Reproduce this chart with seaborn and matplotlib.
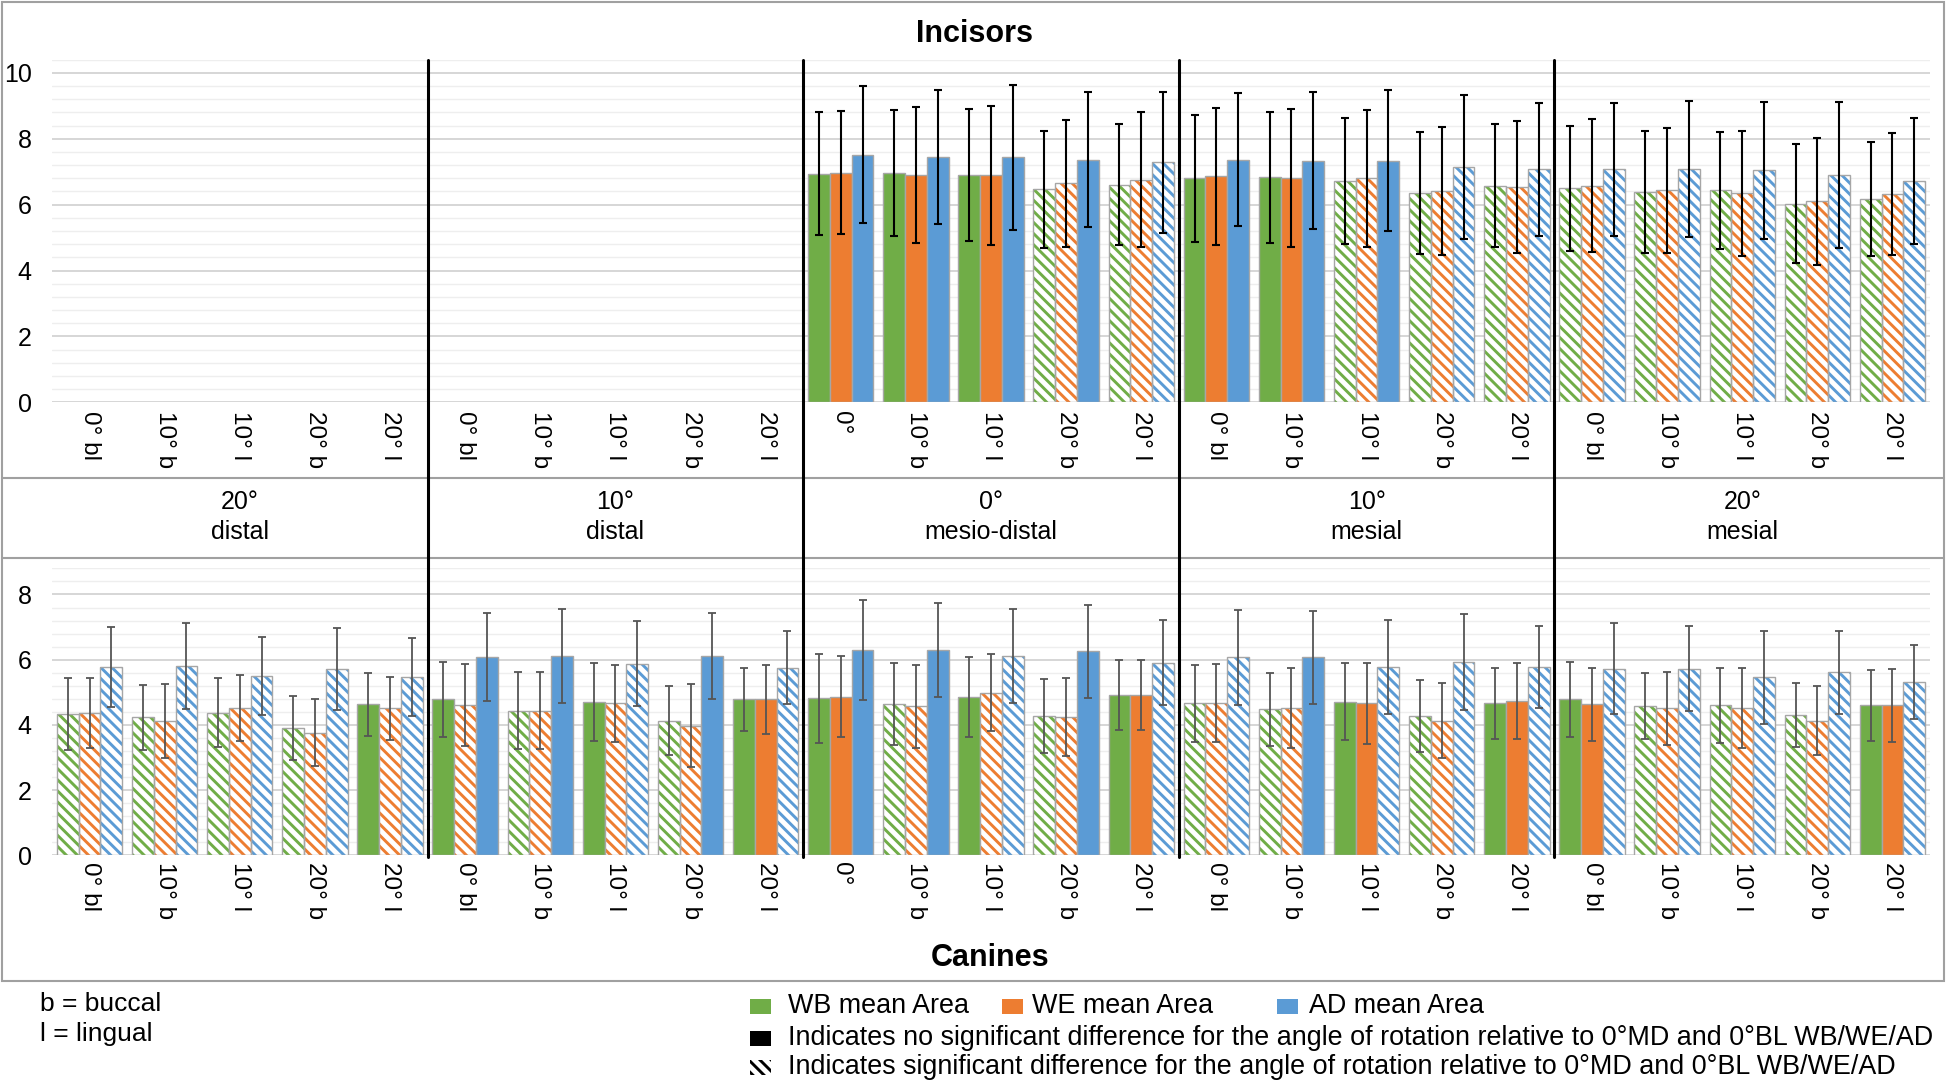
import numpy as np
import pandas as pd
import matplotlib
matplotlib.use("Agg")
import matplotlib.pyplot as plt
import seaborn as sns
from matplotlib.patches import Rectangle
from matplotlib.lines import Line2D
from matplotlib.ticker import MultipleLocator

sns.set_theme(style="white")
plt.rcParams['font.family'] = ['Liberation Sans', 'DejaVu Sans']
plt.rcParams['hatch.linewidth'] = 2.1
plt.rcParams['text.color'] = 'black'
plt.rcParams['xtick.color'] = 'black'
plt.rcParams['ytick.color'] = 'black'

# ---------------- data ----------------
sections = ["20°\ndistal", "10°\ndistal", "0°\nmesio-distal", "10°\nmesial", "20°\nmesial"]
rotations = ["0° bl", "10° b", "10° l", "20° b", "20° l"]
rotations_md = ["0°", "10° b", "10° l", "20° b", "20° l"]
series = ["WB mean Area", "WE mean Area", "AD mean Area"]
colors = ["#70AD47", "#ED7D31", "#5B9BD5"]

# Incisors (no data for the two distal sections)
inc_wb = [None, None, None, None, None, None, None, None, None, None,
          6.94, 6.97, 6.89, 6.46, 6.61, 6.80, 6.83, 6.72, 6.35, 6.58, 6.50, 6.39, 6.43, 6.03, 6.17]
inc_wb_sd = [None, None, None, None, None, None, None, None, None, None,
             1.86, 1.91, 2.00, 1.79, 1.84, 1.92, 1.98, 1.90, 1.86, 1.87, 1.90, 1.86, 1.79, 1.80, 1.72]
inc_we = [None, None, None, None, None, None, None, None, None, None,
          6.97, 6.89, 6.89, 6.65, 6.75, 6.86, 6.80, 6.80, 6.42, 6.53, 6.57, 6.43, 6.35, 6.10, 6.32]
inc_we_sd = [None, None, None, None, None, None, None, None, None, None,
             1.86, 2.06, 2.11, 1.93, 2.05, 2.07, 2.10, 2.08, 1.94, 2.00, 2.02, 1.90, 1.90, 1.93, 1.86]
inc_ad = [None, None, None, None, None, None, None, None, None, None,
          7.51, 7.44, 7.44, 7.37, 7.28, 7.37, 7.34, 7.34, 7.15, 7.08, 7.08, 7.08, 7.04, 6.90, 6.72]
inc_ad_sd = [None, None, None, None, None, None, None, None, None, None,
             2.08, 2.04, 2.20, 2.06, 2.14, 2.03, 2.09, 2.13, 2.18, 2.02, 2.02, 2.06, 2.09, 2.22, 1.90]
# 1 = significant difference (hatched), 0 = no significant difference (solid)
inc_wb_sig = [0, 0, 0, 0, 0, 0, 0, 0, 0, 0, 0, 0, 0, 1, 1, 0, 0, 1, 1, 1, 1, 1, 1, 1, 1]
inc_we_sig = [0, 0, 0, 0, 0, 0, 0, 0, 0, 0, 0, 0, 0, 1, 1, 0, 0, 1, 1, 1, 1, 1, 1, 1, 1]
inc_ad_sig = [0, 0, 0, 0, 0, 0, 0, 0, 0, 0, 0, 0, 0, 0, 1, 0, 0, 0, 1, 1, 1, 1, 1, 1, 1]

# Canines
can_wb = [4.34, 4.23, 4.37, 3.91, 4.63, 4.78, 4.44, 4.71, 4.13, 4.78, 4.81, 4.63, 4.86, 4.27, 4.91,
          4.66, 4.48, 4.71, 4.28, 4.66, 4.78, 4.57, 4.60, 4.31, 4.60]
can_wb_sd = [1.10, 0.99, 1.06, 0.99, 0.97, 1.14, 1.19, 1.20, 1.05, 0.98, 1.36, 1.26, 1.22, 1.13, 1.07,
             1.19, 1.12, 1.18, 1.10, 1.10, 1.15, 1.01, 1.15, 0.98, 1.09]
can_we = [4.37, 4.12, 4.51, 3.76, 4.51, 4.61, 4.44, 4.66, 3.98, 4.78, 4.86, 4.57, 4.99, 4.24, 4.91,
          4.66, 4.52, 4.66, 4.13, 4.74, 4.63, 4.51, 4.51, 4.13, 4.60]
can_we_sd = [1.08, 1.14, 1.01, 1.03, 0.96, 1.26, 1.19, 1.19, 1.26, 1.07, 1.24, 1.28, 1.18, 1.19, 1.07,
             1.20, 1.24, 1.24, 1.14, 1.17, 1.12, 1.12, 1.22, 1.06, 1.12]
can_ad = [5.78, 5.81, 5.50, 5.71, 5.46, 6.08, 6.11, 5.88, 6.11, 5.75, 6.30, 6.30, 6.11, 6.26, 5.91,
          6.07, 6.07, 5.78, 5.92, 5.78, 5.72, 5.72, 5.46, 5.61, 5.32]
can_ad_sd = [1.23, 1.32, 1.20, 1.26, 1.20, 1.35, 1.45, 1.30, 1.33, 1.12, 1.53, 1.45, 1.43, 1.43, 1.30,
             1.45, 1.43, 1.44, 1.47, 1.26, 1.39, 1.30, 1.43, 1.28, 1.14]
can_wb_sig = [1, 1, 1, 1, 0, 0, 1, 0, 1, 0, 0, 1, 0, 1, 0, 1, 1, 0, 1, 0, 0, 1, 1, 1, 0]
can_we_sig = [1, 1, 1, 1, 1, 1, 1, 1, 1, 0, 0, 1, 1, 1, 0, 1, 1, 0, 1, 0, 0, 1, 1, 1, 0]
can_ad_sig = [1, 1, 1, 1, 1, 0, 0, 1, 0, 1, 0, 0, 1, 0, 1, 1, 0, 1, 1, 1, 1, 1, 1, 1, 1]

# ---------------- layout ----------------
W, H = 1946, 1085
fig = plt.figure(figsize=(W / 100, H / 100), dpi=100)
fig.patch.set_facecolor('white')


def fx(px):
    return px / W


def fy(py):
    return 1 - py / H


keys, tick_labels = [], []
for s, sec in enumerate(sections):
    labs = rotations_md if s == 2 else rotations
    for r in labs:
        keys.append(f"{s}|{r}")
        tick_labels.append(r)

L, R = 52, 1930
ax_top = fig.add_axes([fx(L), fy(402.3), (R - L) / W, (402.3 - 59.7) / H])
ax_bot = fig.add_axes([fx(L), fy(855.3), (R - L) / W, (855.3 - 568.4) / H])

EDGE = "#A6A6A6"
HATCH = '\\\\\\'


def draw_panel(ax, vals, sds, sigs, ymax, yticks, ecolor, elw, pad):
    rows = []
    for h, name in enumerate(series):
        for i, k in enumerate(keys):
            v = vals[h][i]
            rows.append({"key": k, "series": name, "value": np.nan if v is None else v})
    df = pd.DataFrame(rows).dropna()
    sns.barplot(data=df, x="key", y="value", hue="series", order=keys, hue_order=series,
                palette=colors, saturation=1, errorbar=None, width=0.87, ax=ax,
                legend=False, edgecolor=EDGE, linewidth=1.0, zorder=2)
    conts = list(ax.containers)[:3]
    for h, cont in enumerate(conts):
        for p in cont.patches:
            xc = p.get_x() + p.get_width() / 2
            i = int(round(xc))
            if sigs[h][i]:
                p.set_facecolor('white')
                p.set_edgecolor(colors[h])
                p.set_hatch(HATCH)
                p.set_linewidth(0)
                ax.add_patch(Rectangle((p.get_x(), 0), p.get_width(), p.get_height(),
                                       fill=False, edgecolor=EDGE, lw=1.0, zorder=3))
            ax.errorbar(xc, vals[h][i], yerr=sds[h][i], fmt='none', ecolor=ecolor,
                        elinewidth=elw, capsize=3, capthick=elw, zorder=5)
    ax.set_xlim(-0.5, len(keys) - 0.5)
    ax.set_ylim(0, ymax)
    ax.set_yticks(yticks)
    ax.set_yticklabels([str(t) for t in yticks], fontsize=18)
    ax.yaxis.set_minor_locator(MultipleLocator(0.4))
    ax.set_axisbelow(True)
    ax.grid(which='minor', axis='y', color='#EEEEEE', lw=1.0, zorder=0)
    ax.grid(which='major', axis='y', color='#D6D6D6', lw=1.4, zorder=0)
    ax.grid(which='both', axis='x', visible=False)
    ax.set_xticks(range(len(keys)))
    ax.set_xticklabels(tick_labels, rotation=-90, fontsize=17.5, va='top', ha='center')
    ax.tick_params(axis='both', which='both', length=0)
    ax.tick_params(axis='x', pad=pad)
    ax.tick_params(axis='y', pad=14.5)
    for sp in ax.spines.values():
        sp.set_visible(False)
    ax.set_xlabel('')
    ax.set_ylabel('')
    ax.set_facecolor('none')


draw_panel(ax_top, [inc_wb, inc_we, inc_ad], [inc_wb_sd, inc_we_sd, inc_ad_sd],
           [inc_wb_sig, inc_we_sig, inc_ad_sig], 10.4, [0, 2, 4, 6, 8, 10], 'black', 1.5, 6)
draw_panel(ax_bot, [can_wb, can_we, can_ad], [can_wb_sd, can_we_sd, can_ad_sd],
           [can_wb_sig, can_we_sig, can_ad_sig], 8.8, [0, 2, 4, 6, 8], '#555555', 1.3, 5)

# ---------------- frame and separators ----------------
inv = fig.transFigure.inverted()
FRAME = '#A0A0A0'
fig.add_artist(Rectangle((fx(2), fy(981)), fx(1944) - fx(2), fy(2) - fy(981),
                         transform=fig.transFigure, fill=False, edgecolor=FRAME, lw=1.5))
for yy in (478, 558):
    fig.add_artist(Line2D([fx(2), fx(1944)], [fy(yy), fy(yy)], transform=fig.transFigure,
                          color=FRAME, lw=1.5))

for b in (4.5, 9.5, 14.5, 19.5):
    xfig = inv.transform(ax_top.transData.transform((b, 0)))[0]
    fig.add_artist(Line2D([xfig, xfig], [fy(59.7), fy(857)], transform=fig.transFigure,
                          color='black', lw=2.2, zorder=10))

for s, sec in enumerate(sections):
    xfig = inv.transform(ax_top.transData.transform((5 * s + 2, 0)))[0]
    fig.text(xfig, fy(517), sec, ha='center', va='center', fontsize=18, linespacing=1.3)

fig.text(fx(974), fy(34), "Incisors", ha='center', va='center', fontsize=22, fontweight='bold')
fig.text(fx(990), fy(958), "Canines", ha='center', va='center', fontsize=22, fontweight='bold')

# ---------------- legend ----------------
LFS = 19.4
fig.text(fx(40), fy(1004), "b = buccal", ha='left', va='center', fontsize=19)
fig.text(fx(40), fy(1034), "l = lingual", ha='left', va='center', fontsize=19)

pw, ph = 21, 15
row_y = [1006, 1038, 1067]
for (px, tx), name, c in zip([(750, 788), (1002, 1032), (1277, 1309)], series, colors):
    fig.add_artist(Rectangle((fx(px), fy(row_y[0] + ph / 2)), pw / W, ph / H,
                             transform=fig.transFigure, facecolor=c, edgecolor='none'))
    fig.text(fx(tx), fy(row_y[0]), name, ha='left', va='center', fontsize=LFS)

fig.add_artist(Rectangle((fx(750), fy(row_y[1] + ph / 2)), pw / W, ph / H,
                         transform=fig.transFigure, facecolor='black', edgecolor='none'))
fig.text(fx(788), fy(row_y[1]),
         "Indicates no significant difference for the angle of rotation relative to 0°MD and 0°BL WB/WE/AD",
         ha='left', va='center', fontsize=LFS)
fig.add_artist(Rectangle((fx(750), fy(row_y[2] + ph / 2)), pw / W, ph / H,
                         transform=fig.transFigure, facecolor='white', edgecolor='black',
                         hatch=HATCH, lw=0))
fig.text(fx(788), fy(row_y[2]),
         "Indicates significant difference for the angle of rotation relative to 0°MD and 0°BL WB/WE/AD",
         ha='left', va='center', fontsize=LFS)

fig.savefig("out.png", dpi=100, facecolor='white')
